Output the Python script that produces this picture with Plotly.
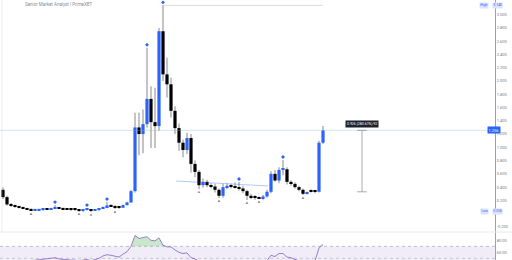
import plotly.graph_objects as go

# ---------------- data ----------------
opens = [0.36, 0.25, 0.14, 0.12, 0.105, 0.09, 0.08, 0.065, 0.055, 0.055,
         0.06, 0.07, 0.068, 0.08, 0.095, 0.08, 0.07, 0.065, 0.06, 0.058,
         0.045, 0.06, 0.065, 0.05, 0.06, 0.075, 0.10, 0.125, 0.115, 0.10,
         0.09, 0.13, 0.17, 0.34, 1.30, 1.20, 1.35, 1.73, 1.38, 1.32,
         2.75, 2.10, 1.95, 1.55, 1.29, 1.07, 0.96, 1.14, 0.75, 0.63,
         0.43, 0.48, 0.43, 0.41, 0.36, 0.27, 0.40, 0.42, 0.41, 0.40,
         0.38, 0.34, 0.27, 0.25, 0.24, 0.23, 0.26, 0.33, 0.60, 0.50,
         0.66, 0.67, 0.48, 0.45, 0.40, 0.36, 0.31, 0.35, 0.34, 0.33,
         1.07]
highs = [0.40, 0.27, 0.16, 0.14, 0.12, 0.11, 0.09, 0.075, 0.07, 0.07,
         0.08, 0.08, 0.09, 0.13, 0.10, 0.085, 0.075, 0.07, 0.065, 0.06,
         0.065, 0.085, 0.07, 0.065, 0.08, 0.11, 0.175, 0.14, 0.12, 0.11,
         0.14, 0.18, 0.36, 1.52, 1.52, 1.57, 2.50, 1.92, 1.90, 2.80,
         3.14, 2.35, 2.05, 1.62, 1.36, 1.12, 1.22, 1.20, 0.80, 0.66,
         0.53, 0.51, 0.46, 0.45, 0.38, 0.45, 0.46, 0.45, 0.47, 0.478,
         0.42, 0.36, 0.30, 0.28, 0.26, 0.28, 0.36, 0.64, 0.66, 0.70,
         0.81, 0.70, 0.50, 0.47, 0.42, 0.38, 0.33, 0.37, 0.36, 1.10,
         1.32]
lows = [0.22, 0.12, 0.10, 0.09, 0.08, 0.07, 0.06, 0.04, 0.045, 0.05,
        0.05, 0.06, 0.06, 0.07, 0.075, 0.065, 0.06, 0.055, 0.05, 0.04,
        0.04, 0.05, 0.026, 0.045, 0.055, 0.07, 0.09, 0.10, 0.07, 0.08,
        0.085, 0.12, 0.16, 0.32, 0.88, 0.91, 1.30, 0.99, 0.99, 1.25,
        2.00, 1.75, 1.45, 1.20, 0.95, 0.85, 0.90, 0.62, 0.55, 0.37,
        0.39, 0.40, 0.38, 0.32, 0.235, 0.24, 0.37, 0.38, 0.38, 0.35,
        0.31, 0.206, 0.22, 0.21, 0.22, 0.21, 0.24, 0.31, 0.48, 0.46,
        0.58, 0.44, 0.42, 0.38, 0.34, 0.28, 0.29, 0.32, 0.31, 0.32,
        1.05]
closes = [0.25, 0.14, 0.12, 0.105, 0.09, 0.08, 0.065, 0.055, 0.055, 0.06,
          0.07, 0.068, 0.08, 0.095, 0.08, 0.07, 0.065, 0.06, 0.058, 0.045,
          0.06, 0.065, 0.05, 0.06, 0.075, 0.10, 0.125, 0.115, 0.10, 0.09,
          0.13, 0.17, 0.34, 1.30, 1.20, 1.35, 1.73, 1.38, 1.32, 2.75,
          2.10, 1.95, 1.55, 1.29, 1.07, 0.96, 1.14, 0.75, 0.63, 0.43,
          0.48, 0.43, 0.41, 0.36, 0.27, 0.40, 0.42, 0.41, 0.40, 0.38,
          0.34, 0.27, 0.25, 0.24, 0.23, 0.26, 0.33, 0.60, 0.50, 0.66,
          0.67, 0.48, 0.45, 0.40, 0.36, 0.30, 0.32, 0.33, 0.33, 1.07,
          1.256]

rsi_start = 7
rsi = [46, 47, 48, 49, 49, 50, 51, 49, 48, 47,
       47, 47, 45, 47, 48, 46, 48, 50, 54, 56,
       55, 53, 52, 57, 61, 70, 88, 83, 84, 86,
       80, 79, 84, 72, 69, 69, 64, 60, 58, 59,
       51, 49, 45, 46, 45, 44, 42, 40, 45, 46,
       45, 45, 44, 42, 39, 38, 38, 37, 40, 46,
       55, 53, 58, 58, 52, 51, 48, 46, 44, 45,
       45, 46, 67, 73]

high_marks = [13, 21, 26, 36, 40, 59, 70]
low_marks = [7, 19, 22, 28, 49, 54, 61, 64, 75]

# the 0.000 tick sits under the "Low" price label
y_ticks = [-0.2, 0.2, 0.4, 0.6, 0.8, 1.0, 1.2, 1.4, 1.6, 1.8, 2.0,
           2.2, 2.4, 2.6, 2.8, 3.0, 3.2]
rsi_ticks = [60, 80]

title_text = "Senior Market Analyst | PrimeXBT"
measure_idx = 89.75
measure_from = 0.33
measure_bars = 92

# ---------------- figure ----------------
BLUE = "#2962ff"
BLACK = "#000000"
WICK = "#c4c4c4"
XDOM = 495 / 512
RSI_TOP = 28 / 260

n = len(closes)
idx = list(range(n))

wick_h = [h - l for h, l in zip(highs, lows)]
body_base = [min(o, c) for o, c in zip(opens, closes)]
body_h = [max(abs(c - o), 0.018) for o, c in zip(opens, closes)]
body_col = [BLUE if c >= o else BLACK for o, c in zip(opens, closes)]

fig = go.Figure()
fig.add_trace(go.Bar(x=idx, y=wick_h, base=lows, width=0.22,
                     marker=dict(color=WICK, line=dict(width=0)),
                     showlegend=False, hoverinfo="skip", xaxis="x", yaxis="y"))
fig.add_trace(go.Bar(x=idx, y=body_h, base=body_base, width=0.8,
                     marker=dict(color=body_col, line=dict(width=0)),
                     showlegend=False, xaxis="x", yaxis="y"))
fig.add_trace(go.Scatter(x=high_marks, y=[highs[i] + 0.045 for i in high_marks],
                         mode="markers", marker=dict(symbol="diamond", size=3, color=BLUE),
                         showlegend=False, xaxis="x", yaxis="y"))
fig.add_trace(go.Scatter(x=low_marks, y=[lows[i] - 0.045 for i in low_marks],
                         mode="markers", marker=dict(symbol="triangle-up", size=2.5, color="#777"),
                         showlegend=False, xaxis="x", yaxis="y"))

# RSI pane
rx = list(range(rsi_start, rsi_start + len(rsi)))
fig.add_trace(go.Scatter(x=rx, y=[70] * len(rx), mode="lines", line=dict(width=0),
                         showlegend=False, hoverinfo="skip", xaxis="x2", yaxis="y2"))
fig.add_trace(go.Scatter(x=rx, y=[max(v, 70) for v in rsi], mode="lines", line=dict(width=0),
                         fill="tonexty", fillcolor="rgba(76,175,80,0.30)",
                         showlegend=False, hoverinfo="skip", xaxis="x2", yaxis="y2"))
fig.add_trace(go.Scatter(x=rx, y=rsi, mode="lines", line=dict(color="rgba(126,87,194,0.75)", width=1),
                         showlegend=False, xaxis="x2", yaxis="y2"))

cur = closes[-1]
hi = max(highs)
lo = min(lows)
hi_i = highs.index(hi)

shapes = [
    dict(type="line", xref="paper", x0=0, x1=XDOM, yref="y", y0=cur, y1=cur,
         line=dict(color="rgba(130,180,200,0.35)", width=1)),
    dict(type="line", xref="x", x0=hi_i, x1=n - 1, yref="y", y0=hi, y1=hi,
         line=dict(color="rgba(150,150,160,0.35)", width=1)),
    dict(type="line", xref="x", x0=43.25, x1=66.25, yref="y", y0=0.493, y1=0.418,
         line=dict(color="rgba(41,98,255,0.35)", width=1)),
    dict(type="line", xref="x", x0=measure_idx, x1=measure_idx, yref="y", y0=measure_from, y1=cur,
         line=dict(color="rgba(150,150,150,0.8)", width=1)),
    dict(type="line", xref="x", x0=measure_idx - 1.2, x1=measure_idx + 1.2, yref="y", y0=cur, y1=cur,
         line=dict(color="rgba(150,150,150,0.8)", width=1)),
    dict(type="line", xref="x", x0=measure_idx - 1.2, x1=measure_idx + 1.2, yref="y", y0=measure_from, y1=measure_from,
         line=dict(color="rgba(150,150,150,0.8)", width=1)),
    dict(type="line", xref="paper", x0=2 / 512, x1=2 / 512, yref="paper", y0=RSI_TOP, y1=1,
         line=dict(color="rgba(200,200,200,0.35)", width=1)),
    dict(type="rect", xref="paper", x0=0, x1=XDOM, yref="y2", y0=47.2, y1=70,
         fillcolor="rgba(126,87,194,0.11)", line=dict(width=0), layer="below"),
    dict(type="line", xref="paper", x0=0, x1=XDOM, yref="y2", y0=70, y1=70,
         line=dict(color="rgba(120,123,134,0.45)", width=1, dash="dot")),
    dict(type="line", xref="paper", x0=0, x1=XDOM, yref="y2", y0=50, y1=50,
         line=dict(color="rgba(120,123,134,0.35)", width=1, dash="dot")),
    dict(type="line", xref="paper", x0=0, x1=1, yref="paper", y0=RSI_TOP, y1=RSI_TOP,
         line=dict(color="#e6e8ee", width=1)),
]

diff = cur - measure_from
pct = diff / measure_from * 100
annotations = [
    dict(text=title_text, xref="paper", yref="paper", x=23 / 512, y=1, yshift=0,
         xanchor="left", yanchor="top", showarrow=False,
         font=dict(size=4.5, color="#8a8d96", family="Roboto")),
    dict(text=f"{diff:.3f} ({pct:.2f}%) {measure_bars}", xref="x", yref="y",
         x=measure_idx, y=cur, yshift=6, showarrow=False,
         bgcolor="#1e222d", borderpad=1, font=dict(size=3.5, color="white", family="Roboto")),
    dict(text=f"{cur:.3f}", xref="paper", yref="y", x=501 / 512, y=cur, showarrow=False,
         bgcolor=BLUE, borderpad=0.5, font=dict(size=4, color="white", family="Roboto")),
    dict(text="High", xref="paper", yref="y", x=489 / 512, y=hi, showarrow=False,
         bgcolor="#dbe4ff", borderpad=0.3, font=dict(size=3.5, color=BLUE, family="Roboto")),
    dict(text=f"{hi:.3f}", xref="paper", yref="y", x=503 / 512, y=hi, showarrow=False,
         bgcolor="#dbe4ff", borderpad=0.3, font=dict(size=3.5, color=BLUE, family="Roboto")),
    dict(text="Low", xref="paper", yref="y", x=489 / 512, y=lo, showarrow=False,
         bgcolor="#dbe4ff", borderpad=0.3, font=dict(size=3.5, color=BLUE, family="Roboto")),
    dict(text=f"{lo:.3f}", xref="paper", yref="y", x=503 / 512, y=lo, showarrow=False,
         bgcolor="#dbe4ff", borderpad=0.3, font=dict(size=3.5, color=BLUE, family="Roboto")),
]

fig.update_layout(
    width=512, height=260, margin=dict(l=0, r=0, t=0, b=0),
    paper_bgcolor="white", plot_bgcolor="white",
    showlegend=False, barmode="overlay",
    xaxis=dict(domain=[0, XDOM], range=[-0.75, 123.0], showgrid=False, zeroline=False,
               showticklabels=False, anchor="y"),
    yaxis=dict(domain=[RSI_TOP, 1], range=[-0.2758, 3.2208], side="right", anchor="x",
               tickvals=y_ticks, ticktext=[f"{v:.3f}" for v in y_ticks],
               showgrid=False, zeroline=False, showline=True, linecolor="#a0a0a0", linewidth=1,
               ticks="", tickfont=dict(size=4, color="#787b86", family="Roboto")),
    xaxis2=dict(domain=[0, XDOM], range=[-0.75, 123.0], showgrid=False, zeroline=False,
                showticklabels=False, anchor="y2"),
    yaxis2=dict(domain=[0, RSI_TOP], range=[47.2, 93.8], side="right", anchor="x2",
                tickvals=rsi_ticks, ticktext=[f"{v:.2f}" for v in rsi_ticks],
                showgrid=False, zeroline=False, showline=True, linecolor="#a0a0a0", linewidth=1,
                ticks="", tickfont=dict(size=4, color="#787b86", family="Roboto")),
    shapes=shapes, annotations=annotations,
)

fig.write_html("out.html")
